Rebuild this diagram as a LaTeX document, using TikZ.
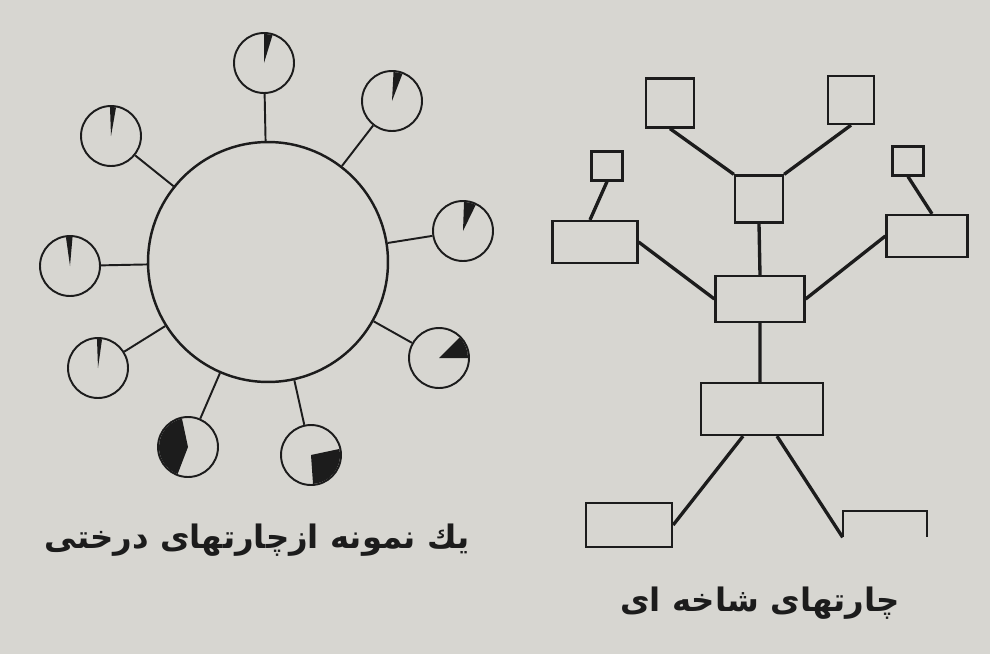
\documentclass[tikz,border=0pt]{standalone}
\usepackage{fontspec}
\usetikzlibrary{positioning}
\newfontfamily\arabicfont[Script=Arabic]{DejaVu Sans}
\TeXXeTstate=1
\definecolor{paper}{RGB}{215,214,209}
\definecolor{ink}{RGB}{28,28,28}
\tikzstyle{link} = [draw=ink, line width=1.1pt]
\tikzstyle{branch} = [draw=ink, line width=1.9pt]
\tikzstyle{pie} = [circle, draw=ink, line width=1.1pt, minimum size=1.2cm, inner sep=0pt]
\tikzstyle{box} = [rectangle, draw=ink, line width=1.3pt, inner sep=0pt]
\tikzstyle{caption} = [text=ink, font=\arabicfont\bfseries\fontsize{18.4}{22}\selectfont]
\newcommand\pieslice[3]{\fill[ink] (#1.center) -- ++(#2:0.58cm) arc[start angle=#2, end angle=#3, radius=0.58cm] -- cycle;}

\begin{document}
\begin{tikzpicture}[x=0.02cm, y=0.02cm]
\fill[paper] (0,0) rectangle (990,654);
\useasboundingbox (0,0) rectangle (990,654);
%----------------------------------------------------------------------------
% Tree chart (circle with pies)
\node (treeHub) [circle, draw=ink, line width=1.4pt, minimum size=4.8cm, inner sep=0pt] at (268,392) {};

\node (pieTop) [pie] at (264,591) {};
\node (pieUpRight) [pie] at (392,553) {};
\node (pieRight) [pie] at (463,423) {};
\node (pieLowRight) [pie] at (439,296) {};
\node (pieBotRight) [pie] at (311,199) {};
\node (pieBotLeft) [pie] at (188,207) {};
\node (pieLowLeft) [pie] at (98,286) {};
\node (pieLeft) [pie] at (70,388) {};
\node (pieUpLeft) [pie] at (111,518) {};

\pieslice{pieTop}{73}{90}
\pieslice{pieUpRight}{69}{87}
\pieslice{pieRight}{64}{88}
\pieslice{pieLowRight}{0}{45}
\pieslice{pieBotRight}{-86}{12}
\pieslice{pieBotLeft}{102}{249}
\pieslice{pieLowLeft}{82}{92}
\pieslice{pieLeft}{85}{98}
\pieslice{pieUpLeft}{80}{92}

\draw [link] (pieTop) -- (treeHub);
\draw [link] (pieUpRight) -- (treeHub);
\draw [link] (pieRight) -- (treeHub);
\draw [link] (pieLowRight) -- (treeHub);
\draw [link] (pieBotRight) -- (treeHub);
\draw [link] (pieBotLeft) -- (treeHub);
\draw [link] (pieLowLeft) -- (treeHub);
\draw [link] (pieLeft) -- (treeHub);
\draw [link] (pieUpLeft) -- (treeHub);

%----------------------------------------------------------------------------
% Branch chart (boxes)
\node (sqTopLeft) [box, minimum width=0.96cm, minimum height=0.98cm] at (670,551) {};
\node (sqTopRight) [box, minimum width=0.92cm, minimum height=0.96cm] at (851,554) {};
\node (sqHub) [box, minimum width=0.96cm, minimum height=0.94cm] at (759,455) {};
\node (sqSmallLeft) [box, minimum width=0.62cm, minimum height=0.58cm] at (607,488) {};
\node (sqSmallRight) [box, minimum width=0.62cm, minimum height=0.58cm] at (908,493) {};
\node (rectLeft) [box, minimum width=1.7cm, minimum height=0.84cm] at (595,412) {};
\node (rectRight) [box, minimum width=1.62cm, minimum height=0.84cm] at (927,418) {};
\node (rectMid) [box, minimum width=1.78cm, minimum height=0.92cm] at (760,355) {};
\node (rectLow) [box, minimum width=2.44cm, minimum height=1.04cm] at (762,245) {};
\node (rectBotLeft) [box, minimum width=1.72cm, minimum height=0.88cm] at (629,129) {};
\node (rectBotRight) [minimum width=1.68cm, minimum height=0.52cm, inner sep=0pt] at (885,130) {};
\draw [ink, line width=1.3pt] (rectBotRight.south west) -- (rectBotRight.north west) -- (rectBotRight.north east) -- (rectBotRight.south east);

%----------------------------------------------------------------------------
% Lines
\draw [branch] (sqTopLeft.south) -- (sqHub.north west);
\draw [branch] (sqTopRight.south) -- (sqHub.north east);
\draw [branch] (sqHub.south) -- (rectMid.north);
\draw [branch] (sqSmallLeft.south) -- ([xshift=-0.1cm] rectLeft.north);
\draw [branch] (sqSmallRight.south) -- ([xshift=0.1cm] rectRight.north);
\draw [branch] (rectLeft.east) -- (rectMid.west);
\draw [branch] (rectRight.west) -- (rectMid.east);
\draw [branch] (rectMid.south) -- ([xshift=-0.04cm] rectLow.north);
\draw [branch] ([xshift=-0.38cm] rectLow.south) -- (rectBotLeft.east);
\draw [branch] ([xshift=0.3cm] rectLow.south) -- (rectBotRight.south west);

%----------------------------------------------------------------------------
% Captions
\node (treeCaption) [caption] at (257,114) {\beginR یك نمونه ازچارتهای درختی\endR};
\node (branchCaption) [caption] at (760,51) {\beginR چارتهای شاخه ای\endR};

\end{tikzpicture}
\end{document}
